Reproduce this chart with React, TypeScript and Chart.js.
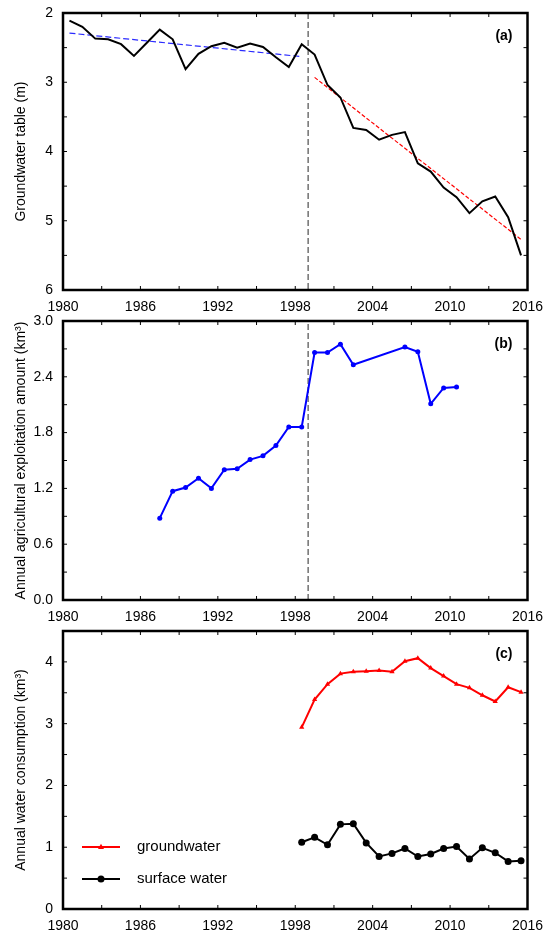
import React, { useEffect, useRef } from "react";
import { Chart, registerables } from "chart.js";

Chart.register(...registerables);

const FONT = "'Liberation Sans', Arial, Helvetica, sans-serif";

// ---------- Panel (a): groundwater table ----------
const gwYears = [
  1980.5, 1981.5, 1982.5, 1983.5, 1984.5, 1985.5, 1986.5, 1987.5, 1988.5, 1989.5,
  1990.5, 1991.5, 1992.5, 1993.5, 1994.5, 1995.5, 1996.5, 1997.5, 1998.5, 1999.5,
  2000.5, 2001.5, 2002.5, 2003.5, 2004.5, 2005.5, 2006.5, 2007.5, 2008.5, 2009.5,
  2010.5, 2011.5, 2012.5, 2013.5, 2014.5, 2015.5,
];
const gwTable = [
  2.11, 2.2, 2.37, 2.38, 2.45, 2.62, 2.43, 2.24, 2.38, 2.81,
  2.59, 2.48, 2.43, 2.5, 2.44, 2.49, 2.64, 2.78, 2.45, 2.6,
  3.04, 3.22, 3.66, 3.69, 3.83, 3.76, 3.72, 4.17, 4.29, 4.52,
  4.66, 4.89, 4.72, 4.65, 4.95, 5.5,
];
const trendPreYears = [1980.5, 1998.5];
const trendPre = [2.29, 2.63];
const trendPostYears = [1999.5, 2015.5];
const trendPost = [2.93, 5.27];
const breakYear = 1999;

// ---------- Panel (b): agricultural exploitation ----------
const exploitYears = [
  1987.5, 1988.5, 1989.5, 1990.5, 1991.5, 1992.5, 1993.5, 1994.5, 1995.5, 1996.5,
  1997.5, 1998.5, 1999.5, 2000.5, 2001.5, 2002.5, 2006.5, 2007.5, 2008.5, 2009.5,
  2010.5,
];
const exploit = [
  0.88, 1.17, 1.21, 1.31, 1.2, 1.4, 1.41, 1.51, 1.55, 1.66,
  1.86, 1.86, 2.66, 2.66, 2.75, 2.53, 2.72, 2.67, 2.11, 2.28,
  2.29,
];

// ---------- Panel (c): water consumption ----------
const consYears = [
  1998.5, 1999.5, 2000.5, 2001.5, 2002.5, 2003.5, 2004.5, 2005.5, 2006.5, 2007.5,
  2008.5, 2009.5, 2010.5, 2011.5, 2012.5, 2013.5, 2014.5, 2015.5,
];
const groundwater = [
  2.94, 3.39, 3.64, 3.81, 3.84, 3.85, 3.86, 3.84, 4.01, 4.06,
  3.9, 3.77, 3.64, 3.58, 3.46, 3.36, 3.59, 3.51,
];
const surfaceWater = [
  1.08, 1.16, 1.04, 1.37, 1.38, 1.07, 0.85, 0.9, 0.98, 0.85,
  0.89, 0.98, 1.01, 0.81, 0.99, 0.91, 0.77, 0.78,
];

const xMin = 1980;
const xMax = 2016;
const xStep = 3;
const xLabelStep = 6;

const pts = (xs: number[], ys: number[]) => xs.map((x, i) => ({ x, y: ys[i] }));

const isMult = (v: number, m: number) => Math.abs(v / m - Math.round(v / m)) < 1e-6;

function xScale(h: number) {
  return {
    type: "linear",
    min: xMin,
    max: xMax,
    grid: { display: false, drawTicks: false },
    border: { display: false },
    ticks: {
      stepSize: xStep,
      autoSkip: false,
      maxRotation: 0,
      minRotation: 0,
      padding: 9,
      color: "#000",
      font: { family: FONT, size: 14 },
      callback: (v: number) => (isMult(v, xLabelStep) ? String(v) : ""),
    },
    afterFit: (s: any) => {
      s.height = h;
      s.paddingLeft = 0;
      s.paddingRight = 0;
    },
  };
}

function yScale(
  min: number,
  max: number,
  step: number,
  major: number,
  decimals: number,
  title: string,
  reverse: boolean
) {
  return {
    type: "linear",
    min,
    max,
    reverse,
    grid: { display: false, drawTicks: false },
    border: { display: false },
    ticks: {
      stepSize: step,
      autoSkip: false,
      padding: 10,
      color: "#000",
      font: { family: FONT, size: 14 },
      callback: (v: number) => (isMult(v, major) ? v.toFixed(decimals) : ""),
    },
    title: {
      display: true,
      text: title,
      color: "#000",
      font: { family: FONT, size: 14 },
      padding: { top: 13, bottom: 0 },
    },
    afterFit: (s: any) => {
      s.width = 63;
      s.paddingTop = 0;
      s.paddingBottom = 0;
    },
  };
}

const framePlugin = {
  id: "frame",
  afterDatasetsDraw(chart: any, _args: any, opts: any) {
    const { ctx, chartArea: a, scales } = chart;
    const xs = scales.x;
    const ys = scales.y;
    ctx.save();
    ctx.strokeStyle = "#000";
    ctx.lineWidth = 1;
    const seg = (x1: number, y1: number, x2: number, y2: number) => {
      ctx.beginPath();
      ctx.moveTo(x1, y1);
      ctx.lineTo(x2, y2);
      ctx.stroke();
    };
    const tl = 4;
    xs.ticks.forEach((t: any) => {
      const px = xs.getPixelForValue(t.value);
      if (px <= a.left + 1 || px >= a.right - 1) return;
      seg(px, a.bottom, px, a.bottom - tl);
      seg(px, a.top, px, a.top + tl);
    });
    ys.ticks.forEach((t: any) => {
      const py = ys.getPixelForValue(t.value);
      if (py <= a.top + 1 || py >= a.bottom - 1) return;
      seg(a.left, py, a.left + tl, py);
      seg(a.right, py, a.right - tl, py);
    });
    ctx.lineWidth = 2.5;
    ctx.strokeRect(a.left, a.top, a.right - a.left, a.bottom - a.top);

    if (opts && opts.label) {
      ctx.fillStyle = "#000";
      ctx.font = `bold 14px ${FONT}`;
      ctx.textAlign = "right";
      ctx.textBaseline = "middle";
      ctx.fillText(opts.label, a.right - 15, a.top + 23);
    }

    if (opts && opts.legendRows) {
      const rows: number[] = opts.legendRows;
      let r = 0;
      chart.data.datasets.forEach((ds: any) => {
        if (!ds.label || r >= rows.length) return;
        const y = a.bottom + rows[r++];
        const x1 = a.left + 19;
        const x2 = a.left + 57;
        const xm = (x1 + x2) / 2;
        ctx.strokeStyle = ds.borderColor;
        ctx.lineWidth = ds.borderWidth || 2;
        seg(x1, y, x2, y);
        ctx.fillStyle = ds.pointBackgroundColor || ds.borderColor;
        const rad = ds.pointRadius || 3;
        ctx.beginPath();
        if (ds.pointStyle === "triangle") {
          ctx.moveTo(xm, y - rad * 1.1);
          ctx.lineTo(xm + rad, y + rad * 0.7);
          ctx.lineTo(xm - rad, y + rad * 0.7);
          ctx.closePath();
        } else {
          ctx.arc(xm, y, rad, 0, Math.PI * 2);
        }
        ctx.fill();
        ctx.fillStyle = "#000";
        ctx.font = `15px ${FONT}`;
        ctx.textAlign = "left";
        ctx.textBaseline = "middle";
        ctx.fillText(ds.label, a.left + 74, y);
      });
    }
    ctx.restore();
  },
};

function baseOptions(
  padTop: number,
  padBottom: number,
  xHeight: number,
  y: any,
  frame: any
) {
  return {
    animation: false,
    responsive: true,
    maintainAspectRatio: false,
    layout: { padding: { top: padTop, right: 28.5, bottom: padBottom, left: 0 } },
    scales: { x: xScale(xHeight), y },
    plugins: {
      legend: { display: false },
      title: { display: false },
      tooltip: { enabled: false },
      frame,
    },
  };
}

function configA() {
  return {
    type: "scatter",
    data: {
      datasets: [
        {
          data: pts(gwYears, gwTable),
          showLine: true,
          borderColor: "#000",
          borderWidth: 2,
          pointRadius: 0,
        },
        {
          data: pts(trendPreYears, trendPre),
          showLine: true,
          borderColor: "#2b2bff",
          borderWidth: 1.2,
          borderDash: [6, 3],
          pointRadius: 0,
        },
        {
          data: pts(trendPostYears, trendPost),
          showLine: true,
          borderColor: "#ff0000",
          borderWidth: 1.2,
          borderDash: [4, 2],
          pointRadius: 0,
        },
        {
          data: pts([breakYear, breakYear], [2, 6]),
          showLine: true,
          borderColor: "#707070",
          borderWidth: 1.5,
          borderDash: [6, 3],
          pointRadius: 0,
        },
      ],
    },
    options: baseOptions(
      13,
      0,
      26,
      yScale(2, 6, 0.5, 1, 0, "Groundwater table (m)", true),
      { label: "(a)" }
    ),
    plugins: [framePlugin],
  };
}

function configB() {
  return {
    type: "scatter",
    data: {
      datasets: [
        {
          data: pts(exploitYears, exploit),
          showLine: true,
          borderColor: "#0000ff",
          backgroundColor: "#0000ff",
          pointBackgroundColor: "#0000ff",
          borderWidth: 2,
          pointRadius: 2.5,
          pointBorderWidth: 0,
        },
        {
          data: pts([breakYear, breakYear], [0, 3]),
          showLine: true,
          borderColor: "#707070",
          borderWidth: 1.5,
          borderDash: [6, 3],
          pointRadius: 0,
        },
      ],
    },
    options: baseOptions(
      15,
      0,
      22,
      yScale(
        0,
        3,
        0.3,
        0.6,
        1,
        "Annual agricultural exploitation amount (km\u00b3)",
        false
      ),
      { label: "(b)" }
    ),
    plugins: [framePlugin],
  };
}

function configC() {
  return {
    type: "scatter",
    data: {
      datasets: [
        {
          label: "groundwater",
          data: pts(consYears, groundwater),
          showLine: true,
          borderColor: "#ff0000",
          backgroundColor: "#ff0000",
          pointBackgroundColor: "#ff0000",
          borderWidth: 2,
          pointStyle: "triangle",
          pointRadius: 3,
          pointBorderWidth: 0,
        },
        {
          label: "surface water",
          data: pts(consYears, surfaceWater),
          showLine: true,
          borderColor: "#000000",
          backgroundColor: "#000000",
          pointBackgroundColor: "#000000",
          borderWidth: 2,
          pointStyle: "circle",
          pointRadius: 3.5,
          pointBorderWidth: 0,
        },
      ],
    },
    options: baseOptions(
      15,
      3,
      26,
      yScale(0, 4.5, 0.5, 1, 0, "Annual water consumption (km\u00b3)", false),
      { label: "(c)", legendRows: [-62, -30] }
    ),
    plugins: [framePlugin],
  };
}

function Panel({ make, top, height }: { make: () => any; top: number; height: number }) {
  const ref = useRef<HTMLCanvasElement | null>(null);
  useEffect(() => {
    if (!ref.current) return;
    const chart = new Chart(ref.current, make());
    return () => chart.destroy();
  }, []);
  return (
    <div style={{ position: "absolute", left: 0, top, width: 556, height }}>
      <canvas ref={ref} />
    </div>
  );
}

export default function App() {
  return (
    <div
      style={{
        position: "absolute",
        left: 0,
        top: 0,
        width: 556,
        height: 938,
        background: "#fff",
        fontFamily: FONT,
      }}
    >
      <Panel make={configA} top={0} height={316} />
      <Panel make={configB} top={306} height={316} />
      <Panel make={configC} top={616} height={322} />
    </div>
  );
}
